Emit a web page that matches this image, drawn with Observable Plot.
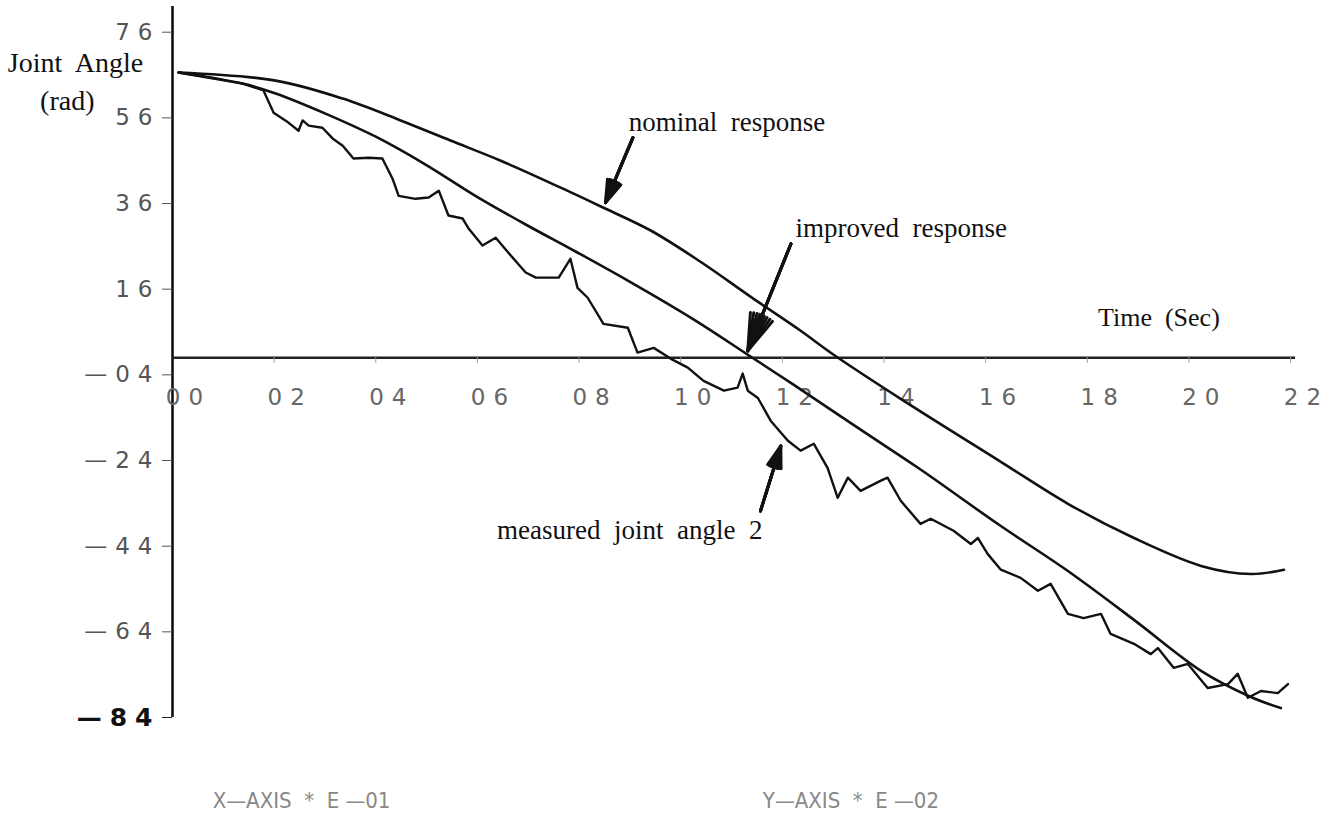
<!DOCTYPE html>
<html><head><meta charset="utf-8">
<script src="https://cdn.jsdelivr.net/npm/d3@7"></script>
<script src="https://cdn.jsdelivr.net/npm/@observablehq/plot@0.6"></script>
<style>body{margin:0;background:#fff}</style>
</head><body><div id="chart"></div>
<script>
// Time (x, units of E-01 s) and joint angle (y, units of E-02 rad)
const nominalT = [0.12, 2.03, 3.35, 4.49, 5.47, 6.46, 7.64, 8.43, 9.41, 10.39, 11.38, 12.36, 13.01, 14.33, 16.30, 17.62, 18.92, 20.24, 21.22, 21.87];
const nominalY = [66.6, 64.7, 60.5, 55.4, 50.7, 46.0, 39.7, 35.3, 29.7, 22.4, 14.2, 6.3, 0.7, -9.6, -24.3, -34.1, -42.1, -48.6, -50.5, -49.5];

const improvedT = [0.12, 1.38, 2.03, 3.01, 4.00, 4.98, 5.96, 6.95, 7.93, 8.96, 10.26, 11.32, 12.22, 13.54, 14.67, 16.30, 17.62, 18.92, 20.24, 21.22, 21.81];
const improvedY = [66.6, 64.0, 61.7, 57.0, 51.6, 45.1, 37.8, 31.1, 24.8, 18.0, 8.9, 0.7, -6.3, -16.8, -25.7, -39.3, -49.8, -61.2, -73.1, -79.2, -81.8];

const measuredT = [0.12, 1.38, 1.79, 1.99, 2.28, 2.48, 2.56, 2.68, 2.95, 3.15, 3.35, 3.56, 3.86, 4.13, 4.33, 4.45, 4.78, 5.04, 5.24, 5.43, 5.71, 5.83, 6.10, 6.36, 6.61, 6.95, 7.15, 7.60, 7.83, 7.97, 8.17, 8.48, 8.96, 9.15, 9.47, 9.80, 10.14, 10.45, 10.85, 11.12, 11.22, 11.32, 11.52, 11.77, 12.11, 12.36, 12.62, 12.89, 13.09, 13.29, 13.54, 13.94, 14.07, 14.33, 14.72, 14.92, 15.37, 15.71, 15.85, 16.04, 16.30, 16.69, 17.03, 17.28, 17.62, 17.93, 18.27, 18.46, 18.92, 19.25, 19.39, 19.70, 19.98, 20.37, 20.77, 20.96, 21.16, 21.42, 21.75, 21.95];
const measuredY = [66.6, 64.0, 62.4, 57.2, 54.9, 53.0, 55.4, 54.2, 53.7, 51.2, 49.5, 46.5, 46.7, 46.5, 41.8, 37.8, 37.1, 37.4, 39.0, 33.2, 32.5, 30.1, 26.2, 28.0, 24.5, 19.9, 18.7, 18.7, 23.1, 16.3, 14.0, 7.9, 7.0, 1.2, 2.3, -0.2, -2.3, -5.4, -7.7, -7.0, -3.7, -7.7, -9.4, -14.7, -19.4, -21.7, -20.1, -25.7, -32.7, -28.0, -31.1, -28.7, -28.0, -33.4, -38.8, -37.6, -40.4, -43.5, -42.1, -45.8, -49.5, -51.4, -54.4, -52.8, -59.8, -60.8, -59.8, -64.5, -66.8, -69.2, -67.8, -72.4, -71.5, -77.1, -76.2, -73.8, -79.4, -77.8, -78.3, -76.2];

// Axis ticks and labels
const yTicks = [76, 56, 36, 16, -4, -24, -44, -64];
const yTickBold = [-84];
const xTicks = [0, 2, 4, 6, 8, 10, 12, 14, 16, 18, 20, 22];
const xTickLabels = ["00", "02", "04", "06", "08", "10", "12", "14", "16", "18", "20", "22"];

// Annotations
const labelText = ["nominal  response", "improved  response", "measured  joint  angle  2", "Time  (Sec)"];
const labelX = [8.98, 12.26, 11.61, 19.41];
const labelY = [54.9, 30.1, -40.2, 9.3];
const labelAnchor = ["start", "start", "end", "middle"];

const arrowX1 = [9.06, 12.17, 11.57];
const arrowY1 = [51.4, 26.6, -35.8];
const arrowX2 = [8.52, 11.32, 11.97];
const arrowY2 = [36.2, 1.6, -20.6];

const yTitle = ["Joint  Angle", "(rad)"];
const yTitleX = [-1.91, -2.07];
const yTitleY = [68.7, 60.0];

const captionText = ["X\u2014AXIS  *  E \u201401", "Y\u2014AXIS  *  E \u201402"];
const captionX = [2.54, 13.35];
const captionY = [-103.5, -103.5];

const toRows = (T, Y) => T.map((t, i) => ({t, v: Y[i]}));
const nominal = toRows(nominalT, nominalY);
const improved = toRows(improvedT, improvedY);
const measured = toRows(measuredT, measuredY);
const labels = labelText.map((s, i) => ({s, x: labelX[i], y: labelY[i], a: labelAnchor[i]}));
const arrows = arrowX1.map((x1, i) => ({x1, y1: arrowY1[i], x2: arrowX2[i], y2: arrowY2[i]}));
const titles = yTitle.map((s, i) => ({s, x: yTitleX[i], y: yTitleY[i]}));
const captions = captionText.map((s, i) => ({s, x: captionX[i], y: captionY[i]}));
const xt = xTicks.map((x, i) => ({x, s: xTickLabels[i]}));

const fmtY = d => (d < 0 ? "\u2014" : "") + String(Math.abs(d)).padStart(2, "0");
const plotter = "'DejaVu Sans', sans-serif";
const serif = "'Liberation Serif', 'Times New Roman', serif";
const ink = "#111";

const arrowMarks = [36, 26, 16, 7].map(a =>
  Plot.arrow(arrows, {x1: "x1", y1: "y1", x2: "x2", y2: "y2", stroke: ink, strokeWidth: 3, headLength: 21, headAngle: a})
);

const chart = Plot.plot({
  width: 1332, height: 824,
  marginLeft: 172, marginRight: 42, marginTop: 6, marginBottom: 107,
  x: {domain: [0, 22], axis: null},
  y: {domain: [-84, 82], axis: null},
  style: {background: "#fff", overflow: "visible"},
  marks: [
    Plot.ruleX([0], {y1: -84, y2: 82, stroke: ink, strokeWidth: 2.6}),
    Plot.ruleY([0], {x1: 0, x2: 22.1, stroke: "#222", strokeWidth: 2.6}),
    Plot.ruleX(xTicks.slice(1), {y1: 0, y2: -1.3, stroke: "#999", strokeWidth: 1}),
    Plot.text(xt, {x: "x", y: 0, text: "s", dx: 16, dy: 40, fontSize: 23, fontFamily: plotter, fill: "#666"}),
    Plot.axisY(yTicks, {anchor: "left", tickSize: 10, tickFormat: () => "", stroke: "#555"}),
    Plot.axisY(yTickBold, {anchor: "left", tickSize: 10, tickFormat: () => "", stroke: "#222"}),
    Plot.text(yTicks, {x: 0, y: d => d, text: fmtY, textAnchor: "end", dx: -12, fontSize: 23, fontFamily: plotter, fill: "#555"}),
    Plot.text(yTickBold, {x: 0, y: d => d, text: fmtY, textAnchor: "end", dx: -12, fontSize: 25, fontWeight: "bold", fontFamily: plotter, fill: "#111"}),
    Plot.line(nominal, {x: "t", y: "v", curve: "catmull-rom", stroke: ink, strokeWidth: 2.6}),
    Plot.line(improved, {x: "t", y: "v", curve: "catmull-rom", stroke: ink, strokeWidth: 2.6}),
    Plot.line(measured, {x: "t", y: "v", curve: "linear", stroke: ink, strokeWidth: 2.4}),
    ...arrowMarks,
    Plot.text(labels.filter(d => d.a === "start"), {x: "x", y: "y", text: "s", textAnchor: "start", fontSize: 27, fontFamily: serif, fill: ink}),
    Plot.text(labels.filter(d => d.a === "end"), {x: "x", y: "y", text: "s", textAnchor: "end", fontSize: 27, fontFamily: serif, fill: ink}),
    Plot.text(labels.filter(d => d.a === "middle"), {x: "x", y: "y", text: "s", fontSize: 26, fontFamily: serif, fill: ink}),
    Plot.text(titles, {x: "x", y: "y", text: "s", fontSize: 28, fontFamily: serif, fill: ink}),
    Plot.text(captions, {x: "x", y: "y", text: "s", fontSize: 22, fontFamily: "'Liberation Sans Narrow', 'DejaVu Sans Condensed', sans-serif", fill: "#888"})
  ]
});

// Wide plotter-style spacing for the tick labels
const spaced = new Set([...xTickLabels, ...[...yTicks, ...yTickBold].map(fmtY)]);
d3.select(chart).selectAll("text").each(function() {
  if (spaced.has(this.textContent)) this.setAttribute("letter-spacing", "8");
});
document.getElementById("chart").append(chart);
</script>
</body></html>
